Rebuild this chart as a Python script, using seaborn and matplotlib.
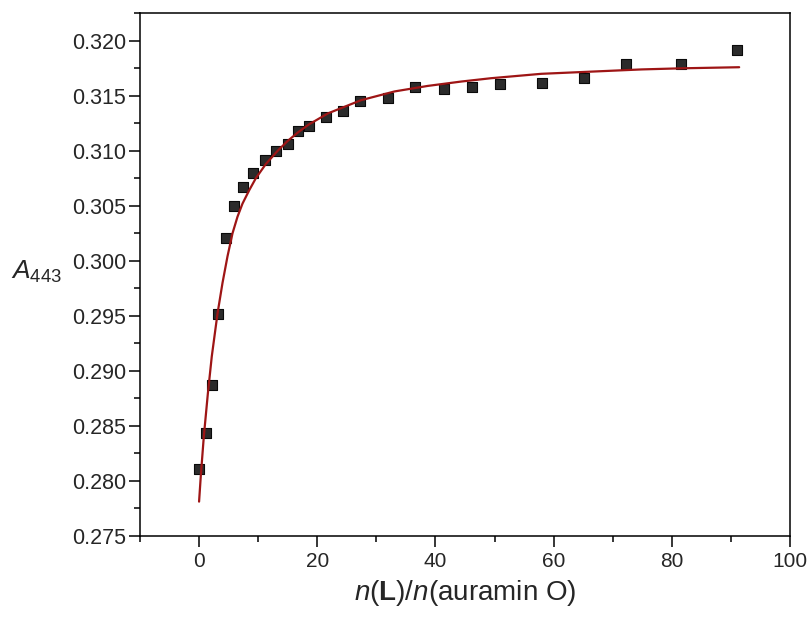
import pandas as pd
import seaborn as sns
import matplotlib.pyplot as plt
from matplotlib.ticker import MultipleLocator

# measured points
ratio = [0, 1.25, 2.27, 3.12, 4.58, 5.93, 7.35, 9.2, 11.1, 13.0, 15.0, 16.8, 18.6,
         21.5, 24.4, 27.2, 31.9, 36.6, 41.4, 46.2, 50.9, 58.0, 65.1, 72.2, 81.6, 91.1]
absorb = [0.2811, 0.2843, 0.2887, 0.2952, 0.3021, 0.3050, 0.3067, 0.3080, 0.3092,
          0.3100, 0.3106, 0.3118, 0.3123, 0.3131, 0.3136, 0.3145, 0.3148, 0.3158,
          0.3156, 0.3158, 0.3161, 0.3162, 0.3166, 0.3179, 0.3179, 0.3192]

# fitted curve
fit_x = [0, 0.3, 0.8, 1.5, 2.15, 3.12, 3.97, 4.81, 5.66, 6.5, 7.35, 8.47, 9.6,
         11.3, 13.3, 15.0, 16.8, 18.6, 21.8, 27.4, 33.1, 38.7, 44.4, 49.4, 57.9,
         66.4, 74.9, 81.6, 91.4]
fit_y = [0.2781, 0.2805, 0.2840, 0.2880, 0.2913, 0.2952, 0.2980, 0.3004, 0.3025,
         0.3040, 0.3052, 0.3064, 0.3075, 0.3088, 0.3100, 0.3109, 0.3117, 0.3124,
         0.3134, 0.3146, 0.3154, 0.3159, 0.3163, 0.3166, 0.3170, 0.3172, 0.3174,
         0.3175, 0.3176]

pts = pd.DataFrame({"x": ratio, "y": absorb})
fit = pd.DataFrame({"x": fit_x, "y": fit_y})

sns.set_style("ticks")
plt.rcParams['font.family'] = ['Liberation Sans', 'DejaVu Sans']
plt.rcParams['mathtext.fontset'] = 'custom'
plt.rcParams['mathtext.rm'] = 'Liberation Sans'
plt.rcParams['mathtext.it'] = 'Liberation Sans:italic'
plt.rcParams['mathtext.bf'] = 'Liberation Sans:bold'

fig = plt.figure(figsize=(8.11, 6.23), dpi=100)
ax = fig.add_axes([0.1726, 0.1401, 0.8015, 0.8385])

sns.scatterplot(data=pts, x="x", y="y", ax=ax, marker="s", s=60,
                color="#2b2b2b", edgecolor="#0a0a0a", linewidth=0.8, zorder=2)
sns.lineplot(data=fit, x="x", y="y", ax=ax, sort=False, estimator=None,
             color="#9e1515", linewidth=1.6, zorder=3)

ax.set_xlim(-10, 100)
ax.set_ylim(0.275, 0.3225)
ax.xaxis.set_major_locator(MultipleLocator(20))
ax.xaxis.set_minor_locator(MultipleLocator(10))
ax.yaxis.set_major_locator(MultipleLocator(0.005))
ax.yaxis.set_minor_locator(MultipleLocator(0.0025))
ax.yaxis.set_major_formatter(plt.FormatStrFormatter('%.3f'))

ax.tick_params(which='both', direction='out', width=1.1, color='black',
               top=False, right=False)
ax.tick_params(which='major', length=8)
ax.tick_params(which='minor', length=4.5)
ax.tick_params(axis='y', labelsize=15.5, pad=2)
ax.tick_params(axis='x', labelsize=15, pad=4)

for sp in ax.spines.values():
    sp.set_linewidth(1.1)
    sp.set_color('black')

ax.set_xlabel(r'$n$($\mathbf{L}$)/$n$(auramin O)', fontsize=20, labelpad=5)
ax.set_ylabel(r'$A_{443}$', fontsize=19, rotation=0, ha='center', va='center')
ax.yaxis.set_label_coords(-0.16, 0.505)

fig.savefig('out.png', dpi=100)
